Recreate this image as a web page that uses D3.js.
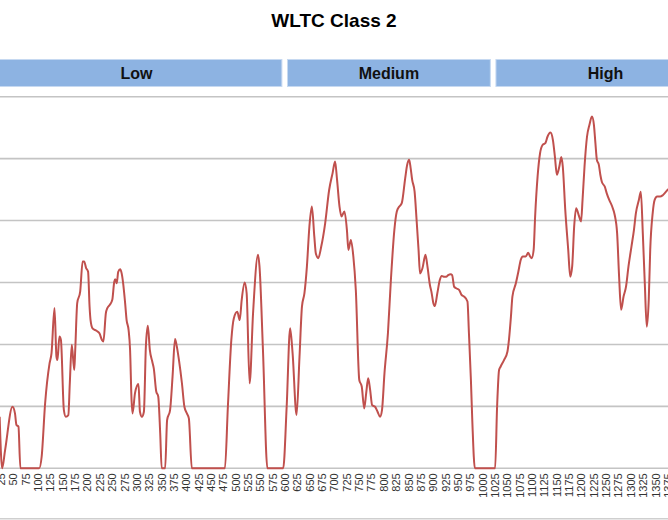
<!DOCTYPE html>
<html>
<head>
<meta charset="utf-8">
<script src="https://cdn.jsdelivr.net/npm/d3@7"></script>
<style>
  body { margin: 0; background: #fff; }
  svg { display: block; font-family: "Liberation Sans", Arial, sans-serif; }
</style>
</head>
<body>
<div id="chart"></div>
<script>
// speed trace (time in s, speed in km/h)
var times = [23, 28, 34, 49, 54, 57, 61, 65, 103, 108, 115, 124, 128, 134, 138, 140, 144, 147,
  153, 157, 162, 165, 169, 174, 176, 180, 186, 191, 194, 198, 202, 205, 207, 211, 219, 225,
  230, 233, 238, 241, 246, 251, 255, 257, 260, 263, 267, 270, 273, 277, 280, 284, 287, 290,
  292, 297, 304, 307, 311, 315, 319, 323, 327, 332, 335, 340, 344, 348, 351, 358, 362, 368,
  373, 378, 381, 386, 392, 397, 402, 406, 412, 479, 485, 492, 497, 504, 509, 513, 519, 523,
  529, 536, 546, 549, 556, 565, 597, 604, 611, 616, 624, 630, 635, 640, 645, 650, 655, 660,
  663, 668, 674, 682, 690, 697, 702, 706, 711, 715, 721, 726, 729, 734, 739, 744, 751, 756,
  761, 765, 769, 773, 777, 783, 788, 793, 797, 802, 809, 815, 822, 827, 832, 837, 844, 848,
  852, 855, 858, 863, 867, 871, 874, 879, 885, 889, 894, 897, 901, 904, 909, 914, 918, 923,
  927, 931, 936, 939, 943, 947, 953, 958, 963, 970, 973, 977, 980, 985, 1026, 1030, 1034,
  1037, 1044, 1051, 1054, 1058, 1061, 1068, 1073, 1078, 1082, 1088, 1093, 1097, 1100, 1104,
  1107, 1112, 1117, 1122, 1128, 1132, 1138, 1143, 1147, 1151, 1156, 1160, 1163, 1168, 1174,
  1178, 1182, 1186, 1190, 1195, 1200, 1203, 1207, 1212, 1217, 1222, 1226, 1229, 1232, 1236,
  1239, 1242, 1248, 1252, 1257, 1263, 1268, 1273, 1277, 1281, 1286, 1291, 1296, 1302, 1307,
  1311, 1317, 1321, 1325, 1329, 1333, 1337, 1340, 1345, 1349, 1354, 1360, 1365, 1369, 1374, 1382];
var speeds = [12.5, 0, 4.4, 14.9, 13.3, 10.5, 10.1, 0, 0, 2.8, 15.7, 25.4, 27.9, 38.8, 27.0, 26.2, 31.9, 31.1,
  14.1, 12.5, 12.9, 20.6, 29.9, 23.8, 28.7, 40.0, 42.8, 50.1, 50.1, 48.5, 47.6, 39.2, 35.9, 33.9, 33.3, 32.7,
  31.1, 30.7, 37.6, 38.8, 39.6, 40.8, 45.2, 45.8, 44.8, 47.6, 48.2, 47.2, 44.8, 40.0, 35.9, 33.5, 28.7, 16.5,
  13.3, 18.2, 20.4, 13.7, 12.5, 13.7, 29.5, 34.5, 28.7, 25.8, 24.2, 18.6, 17.4, 8.5, 0, 0, 11.7, 14.1,
  22.2, 31.3, 29.9, 26.2, 20.6, 14.9, 13.3, 12.1, 0, 0, 14.9, 31.1, 36.3, 37.9, 35.9, 40.8, 45.0, 42.4,
  20.6, 37.6, 51.7, 48.9, 28.7, 0, 0, 14.9, 33.9, 27.9, 12.9, 27.0, 39.2, 42.4, 48.9, 58.5, 63.4, 56.1,
  52.1, 50.9, 53.7, 59.4, 67.4, 71.5, 74.3, 69.9, 63.4, 61.0, 62.2, 57.7, 52.9, 55.3, 51.3, 43.2, 21.4, 19.8,
  14.5, 18.2, 21.8, 19.0, 15.3, 14.9, 13.7, 12.5, 14.1, 23.0, 32.7, 45.6, 57.7, 62.2, 63.4, 64.2, 70.3, 73.5,
  74.7, 72.7, 69.9, 67.0, 60.2, 52.9, 47.2, 48.5, 51.7, 48.9, 44.4, 42.8, 40.0, 39.3, 42.4, 45.6, 46.6, 46.4,
  46.4, 46.8, 47.0, 46.8, 44.0, 43.6, 43.2, 42.0, 41.6, 40.4, 32.7, 21.4, 10.9, 0, 0, 14.9, 23.8,
  24.6, 26.2, 28.3, 31.1, 36.7, 41.6, 44.8, 47.6, 50.5, 51.3, 51.3, 52.2, 51.3, 50.9, 52.9,
  61.0, 70.7, 76.3, 78.3, 78.8, 80.3, 81.3, 79.5, 75.5, 71.1, 73.1, 75.4, 73.1, 62.6, 52.9,
  46.4, 48.9, 58.5, 63.0, 61.4, 59.8, 65.0, 73.1, 80.3, 83.2, 85.2, 83.2, 78.8, 74.7, 73.5,
  71.1, 69.4, 68.2, 66.6, 65.0, 63.4, 61.4, 56.9, 46.4, 38.4, 41.6, 44.0, 48.9, 53.7, 57.7,
  61.8, 65.0, 67.0, 56.9, 44.8, 34.3, 40.8, 52.9, 61.8, 65.0, 65.8, 65.8, 66.1, 66.6, 67.3, 68.0];

var phaseNames = ["Low", "Medium", "High"];
var phaseStart = [0, 600, 1022];
var phaseEnd = [600, 1022, 1477];

var yTicks = [0, 15, 30, 45, 60, 75, 90];
var xTicks = d3.range(0, 1477, 25);

var width = 668, height = 520;
var plot = { left: -11.7, right: 717.9, top: 96.7, bottom: 468.3 };

var svg = d3.select("#chart").append("svg")
  .attr("width", width)
  .attr("height", height);

var x = d3.scaleLinear().domain([0, 1477]).range([plot.left, plot.right]);
var y = d3.scaleLinear().domain([0, 90]).range([plot.bottom, plot.top]);

// title
svg.append("text")
  .attr("x", width / 2)
  .attr("y", 27)
  .attr("text-anchor", "middle")
  .attr("font-size", "19px")
  .attr("font-weight", "bold")
  .attr("fill", "#000")
  .text("WLTC Class 2");

// phase header bars
var phases = phaseNames.map((n, i) => ({ name: n, start: phaseStart[i], end: phaseEnd[i] }));
var hdr = svg.append("g").selectAll("g").data(phases).enter().append("g");
hdr.append("rect")
  .attr("x", d => x(d.start) + 2.8)
  .attr("y", 59.5)
  .attr("width", d => x(d.end) - x(d.start) - 5.6)
  .attr("height", 27)
  .attr("fill", "#8db3e2")
  .attr("stroke", "#c6d9f1")
  .attr("stroke-width", 1);
hdr.append("text")
  .attr("x", d => (x(d.start) + x(d.end)) / 2)
  .attr("y", 79)
  .attr("text-anchor", "middle")
  .attr("font-size", "16px")
  .attr("font-weight", "bold")
  .attr("fill", "#111")
  .text(d => d.name);

// horizontal gridlines
svg.append("g").selectAll("line").data(yTicks).enter().append("line")
  .attr("x1", 0).attr("x2", width)
  .attr("y1", d => y(d)).attr("y2", d => y(d))
  .attr("stroke", "#c4c4c4")
  .attr("stroke-width", 1.6);

// x axis, labels turned on their side
var xAxis = svg.append("g")
  .attr("transform", "translate(0," + plot.bottom + ")")
  .call(d3.axisBottom(x).tickValues(xTicks).tickSize(0).tickFormat(d3.format("d")));
xAxis.select(".domain").remove();
xAxis.selectAll("text")
  .attr("transform", "rotate(-90)")
  .attr("text-anchor", "end")
  .attr("x", -5)
  .attr("y", 0)
  .attr("dy", "0.35em")
  .attr("font-size", "11px")
  .attr("font-family", "Liberation Sans, Arial, sans-serif")
  .attr("fill", "#333");

// bottom border line
svg.append("line")
  .attr("x1", 0).attr("x2", width)
  .attr("y1", 518.8).attr("y2", 518.8)
  .attr("stroke", "#cfcfcf")
  .attr("stroke-width", 1.5);

// speed trace
var pts = times.map((t, i) => [t, speeds[i]]);
var line = d3.line()
  .x(d => x(d[0]))
  .y(d => y(d[1]))
  .curve(d3.curveMonotoneX);
svg.append("path")
  .datum(pts)
  .attr("d", line)
  .attr("fill", "none")
  .attr("stroke", "#c0504d")
  .attr("stroke-width", 2)
  .attr("stroke-linejoin", "round");
</script>
</body>
</html>
